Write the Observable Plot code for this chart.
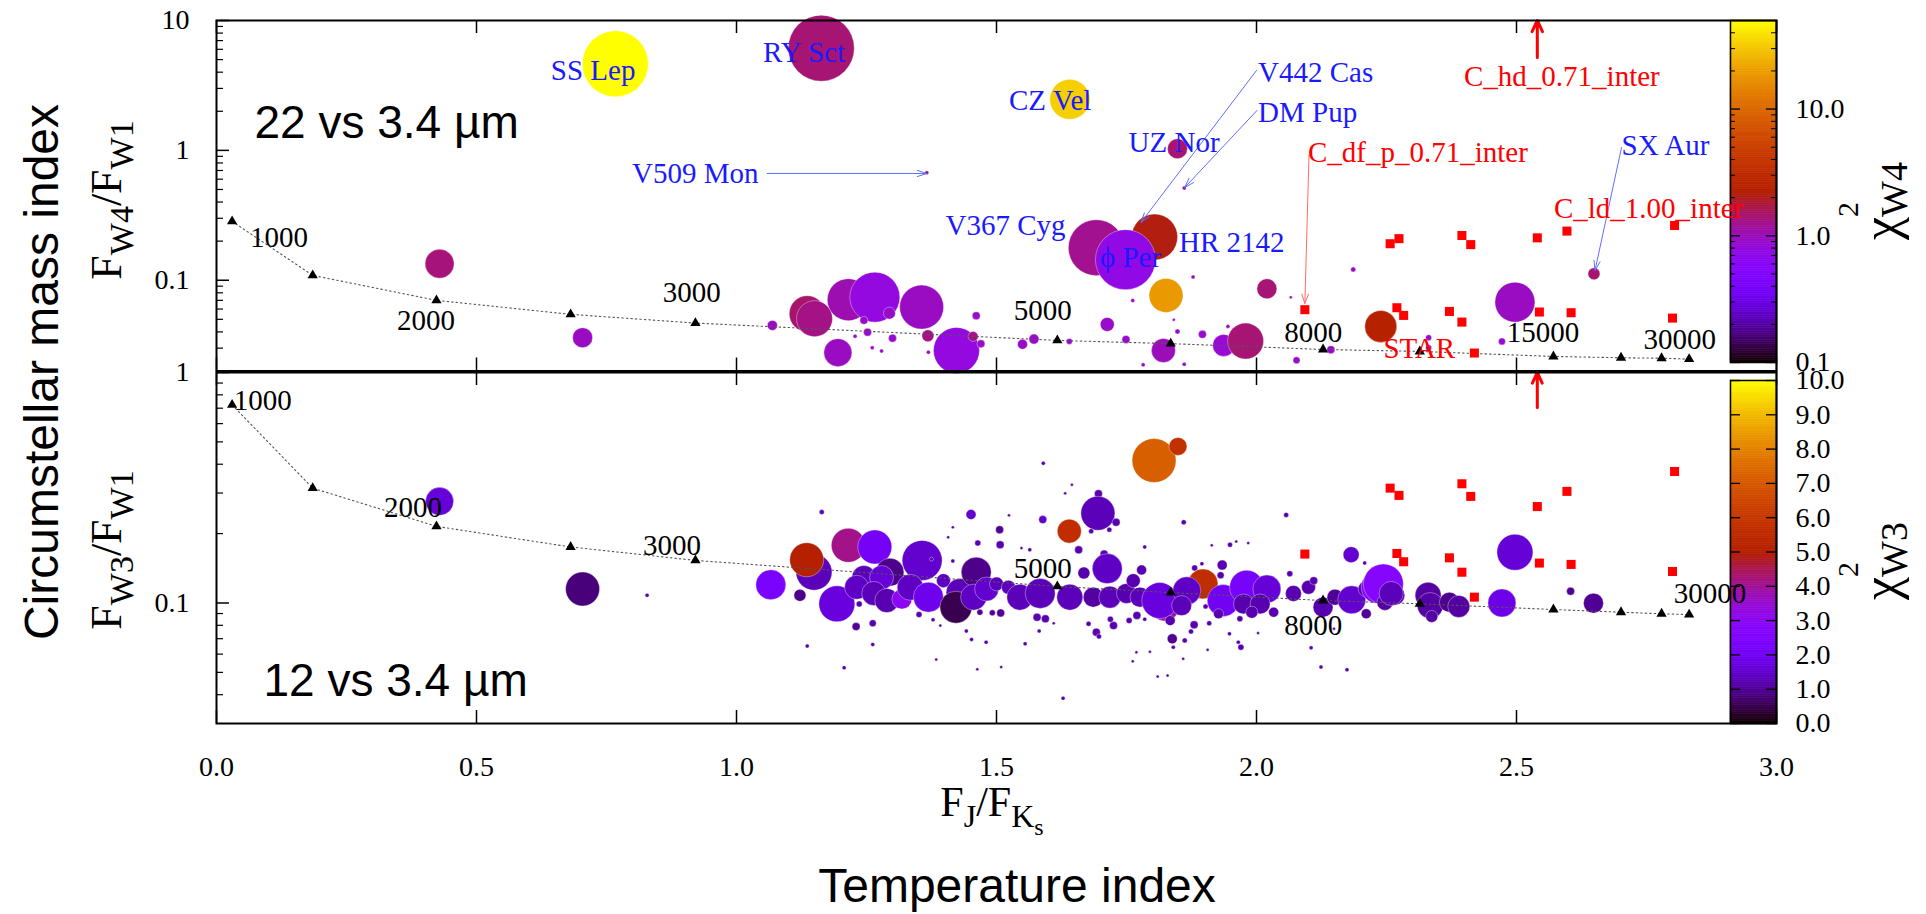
<!DOCTYPE html>
<html><head><meta charset="utf-8">
<script src="https://cdn.jsdelivr.net/npm/d3@7"></script>
<script src="https://cdn.jsdelivr.net/npm/@observablehq/plot@0.6"></script>
<style>
html,body{margin:0;padding:0;background:#fff;}
#wrap{position:relative;width:1926px;height:914px;overflow:hidden;background:#fff;}
</style></head><body><div id="wrap"></div>
<script>
// ---------------- DATA ----------------
// Upper panel: F_J/F_Ks, F_W4/F_W1, marker size, chi^2_W4
const topX = [0.767,1.163,1.641,1.848,1.366,1.861,1.692,1.804,1.748,0.429,0.704,1.826,2.020,1.878,1.762,2.066,
  1.069,1.136,1.150,1.215,1.266,1.294,1.245,1.252,1.228,1.261,1.279,1.300,1.195,1.356,1.368,1.369,1.423,1.461,1.455,1.470,
  1.550,1.572,1.640,1.713,1.749,1.821,1.841,1.848,1.782,1.861,1.896,1.937,1.945,1.979,2.077,2.143,2.186,2.239,2.331,2.331,
  2.472,2.497,2.649];
const topY = [4.64,6.12,2.47,1.03,0.673,0.512,0.178,0.215,0.144,0.134,0.0361,0.0764,0.0859,0.106,0.0698,0.0741,
  0.0449,0.0552,0.0506,0.0708,0.0741,0.0558,0.0491,0.0398,0.0371,0.0302,0.0285,0.0358,0.0277,0.0621,0.0373,0.0279,0.0288,0.0533,0.0369,0.0324,
  0.0321,0.0352,0.0338,0.0457,0.0350,0.0288,0.0497,0.0403,0.0223,0.0225,0.0383,0.0315,0.0441,0.0340,0.0242,0.0292,0.121,0.0441,0.0361,0.0302,
  0.0338,0.0678,0.112];
const topSize = [33,33,20,10,2,2,28,23,30,14.5,10,17,10,2,2,1.5,
  5,18,18,21,25,6,4,4,2,2,2,4,14,22,6,2,23,4,5,4,
  5,5,3,7,4,12,1.5,2.5,2,2,4,11,2,18,3.5,4,2.5,16,3,3,
  3.5,20,6];
const topChi = [50,1.4,33,1.4,1.4,1.2,1.24,2.1,0.74,1.36,0.95,19,1.4,1.0,1.0,1.0,
  0.95,1.45,1.3,1.05,0.78,0.9,0.9,0.9,0.9,0.9,0.9,0.9,0.95,0.95,1.3,1.0,0.78,0.9,1.3,0.9,
  0.9,0.9,0.9,0.9,0.9,1.0,0.9,0.9,0.9,0.9,0.9,0.85,0.9,1.4,0.9,0.9,0.9,2.4,0.9,0.9,
  0.85,0.95,1.45];

// Lower panel: F_J/F_Ks, F_W3/F_W1, marker size, chi^2_W3
const botX = [0.429,0.704,0.828,1.066,1.149,1.135,1.122,1.215,1.266,1.193,1.357,1.295,1.245,1.279,1.231,1.264,1.289,1.318,1.334,1.369,1.398,1.430,1.422,1.461,1.456,1.481,1.500,1.523,1.545,
  1.164,1.451,1.506,1.507,1.464,1.416,1.407,1.524,1.548,1.416,1.375,1.230,1.262,1.262,1.136,1.207,1.351,1.378,1.392,1.384,1.442,1.452,1.480,1.463,1.509,1.468,1.492,1.508,1.555,1.236,
  1.584,1.589,1.590,1.645,1.632,1.696,1.695,1.730,1.682,1.717,1.640,1.803,1.849,1.860,2.057,1.984,1.961,1.949,1.914,1.785,1.658,1.707,1.713,1.668,1.779,1.881,1.934,1.931,
  1.641,1.686,1.718,1.750,1.763,1.776,1.824,1.814,1.897,1.866,1.856,1.936,1.981,2.020,1.975,2.007,2.033,2.071,2.100,2.128,2.151,2.183,2.211,2.211,2.232,2.182,2.208,2.064,
  1.578,1.594,1.582,1.610,1.628,1.677,1.692,1.697,1.725,1.719,1.755,1.770,1.785,1.834,1.838,1.880,1.874,1.862,1.840,1.909,1.902,1.927,1.948,1.965,1.970,1.968,1.991,2.003,1.906,1.859,1.769,1.795,1.762,1.810,1.829,2.105,2.124,2.174,
  2.110,1.564,1.895,2.149,
  2.244,2.266,2.247,2.259,2.330,2.334,2.337,2.371,2.389,2.472,2.497,2.604,2.648];
const botY = [0.276,0.115,0.108,0.120,0.136,0.154,0.108,0.178,0.175,0.0992,0.153,0.136,0.129,0.129,0.117,0.110,0.1025,0.104,0.117,0.106,0.125,0.111,0.0959,0.136,0.106,0.115,0.121,0.117,0.106,
  0.248,0.242,0.208,0.179,0.182,0.213,0.193,0.240,0.173,0.152,0.155,0.079,0.0817,0.066,0.065,0.0524,0.0891,0.0845,0.0798,0.0569,0.0755,0.0695,0.0676,0.0516,0.0527,0.0912,0.0906,0.0905,0.0665,0.099,
  0.110,0.230,0.404,0.326,0.299,0.298,0.245,0.224,0.205,0.208,0.205,0.415,0.478,0.224,0.241,0.182,0.185,0.179,0.178,0.175,0.170,0.163,0.141,0.135,0.139,0.142,0.146,0.132,
  0.106,0.106,0.106,0.110,0.125,0.106,0.096,0.1025,0.121,0.113,0.0974,0.1025,0.117,0.115,0.099,0.099,0.0912,0.110,0.117,0.0959,0.106,0.1032,0.0898,0.115,0.117,0.162,0.149,0.134,
  0.0867,0.0854,0.0755,0.0817,0.0386,0.0812,0.0747,0.0716,0.0798,0.085,0.0839,0.0883,0.085,0.0839,0.0699,0.0804,0.0752,0.0688,0.0643,0.0817,0.0966,0.0898,0.0735,0.0676,0.0643,0.0854,0.0912,0.0740,0.0626,0.0573,0.0612,0.0615,0.0559,0.048,0.0485,0.0639,0.0527,0.0513,
  0.125,0.170,0.148,0.0774,
  0.121,0.108,0.1006,0.110,0.108,0.0975,0.0874,0.1007,0.0966,0.100,0.166,0.1125,0.0998];
const botSize = [14,17,2,15,18,17,6,17,17,18,20,14,12,12,12,12,12,10,13,15,7,14,16,15,13,12,7,7,13,
  2.5,5,4,4,3,1.5,1.5,1.5,1.5,2,2,4,3.5,2,2,2,3,2,1.5,1.5,2,2,2,1.5,1.5,3,3,4,2,3,
  15,4,2,1.5,1.5,4,17,4,2.5,2.5,12,22,9,2.5,2.5,1.5,1.5,2.5,1.5,2,4,4,15,6,5,3,5,3.5,
  13,10,11,10,7,10,14,18,15,14,10,16,17,14,10,10,5,8,7,10,8,14,5,8,16,8,2,3,
  4,4,2,1.5,2,2.5,4,2.5,4,3,3,4,2,5,5,4,2.5,2.5,2,2.5,2.5,5,2,2,3,3,6,1.5,1.5,1.5,1.5,1.5,1.5,1.5,1.5,2,2,2,
  4,2,2,1.5,
  20,10,8,12,13,13,6,10,11,14,18,4,10];
const botChi = [1.6,0.8,1.2,2.3,1.3,5.0,0.9,4.1,2.1,1.7,1.5,0.9,1.3,1.6,1.4,1.3,1.2,3.0,1.4,1.9,1.4,1.3,0.5,0.9,1.4,1.5,1.3,1.3,1.3,
  1.3,1.5,1.0,1.2,1.2,1.2,1.2,1.2,1.2,1.2,1.2,1.0,1.2,1.2,1.2,1.2,1.2,1.2,1.2,1.2,1.2,1.2,1.2,1.2,1.2,1.0,1.0,1.0,1.2,1.2,
  1.3,1.4,1.2,1.2,1.2,1.2,1.3,1.2,1.2,1.2,5.6,7.2,5.8,1.2,1.2,1.2,1.2,1.2,1.2,1.2,1.2,1.2,1.4,1.2,1.2,1.2,1.2,1.2,
  1.3,1.1,1.3,1.2,1.2,1.3,3.9,1.7,5.6,1.4,1.3,2.0,2.2,1.6,1.2,1.2,1.2,1.2,1.2,1.2,1.0,1.5,1.0,1.2,2.8,1.5,1.2,1.2,
  1.2,1.2,1.2,1.2,1.2,1.2,1.2,1.2,1.2,1.2,1.2,1.2,1.2,1.2,1.0,1.2,1.2,1.2,1.2,1.2,1.2,1.2,1.2,1.2,1.2,1.2,1.2,1.2,1.2,1.2,1.2,1.2,1.2,1.2,1.2,1.2,1.2,1.2,
  1.2,1.2,1.2,1.2,
  2.7,1.3,1.1,1.3,1.1,1.1,1.1,0.9,1.1,1.8,1.6,1.0,1.0];

// Dust-shell models (red squares)
const modelX  = [2.257,2.274,2.395,2.412,2.540,2.597,2.804,2.093,2.270,2.283,2.371,2.395,2.419,2.544,2.605,2.800];
const modelW4 = [0.191,0.209,0.221,0.188,0.212,0.239,0.264,0.0593,0.0614,0.0536,0.0575,0.0476,0.0275,0.0569,0.0562,0.0511];
const modelW3 = [0.315,0.293,0.329,0.290,0.262,0.305,0.372,0.163,0.164,0.151,0.157,0.136,0.106,0.149,0.147,0.137];

// Photosphere (blackbody) sequence
const tempK  = [1000,1500,2000,2500,3000,5000,6000,8000,10000,15000,20000,25000,30000];
const tempX  = [0.030,0.185,0.423,0.681,0.921,1.617,1.835,2.128,2.314,2.571,2.701,2.779,2.832];
const tempW4 = [0.284,0.109,0.070,0.0546,0.0468,0.0344,0.0325,0.0293,0.0283,0.0259,0.0253,0.0251,0.0247];
const tempW3 = [0.724,0.315,0.215,0.175,0.153,0.118,0.111,0.1025,0.0992,0.0937,0.0912,0.0898,0.0891];
const tempTopText = ["1000","2000","3000","5000","8000","15000","30000"];
const tempTopX = [0.120,0.403,0.914,1.589,2.109,2.551,2.814];
const tempTopY = [0.213,0.0491,0.0805,0.0585,0.0396,0.0396,0.0350];
const tempBotText = ["1000","2000","3000","5000","8000","30000"];
const tempBotX = [0.089,0.378,0.876,1.589,2.109,2.872];
const tempBotY = [0.756,0.260,0.178,0.141,0.0798,0.110];

// Annotations (upper panel)
const starText = ["SS Lep","RY Sct","CZ Vel","V442 Cas","DM Pup","UZ Nor","V509 Mon","V367 Cyg","ϕ Per","HR 2142","SX Aur"];
const starX = [0.643,1.051,1.524,2.003,2.003,1.754,0.799,1.402,1.699,1.851,2.702];
const starY = [4.12,5.67,2.42,3.98,1.96,1.15,0.664,0.264,0.150,0.195,1.09];
const modelText = ["C_hd_0.71_inter","C_df_p_0.71_inter","C_ld_1.00_inter","STAR"];
const modelTextX = [2.399,2.099,2.572,2.244];
const modelTextY = [3.71,0.964,0.357,0.0299];
const blueArrX1 = [1.059,2.000,2.001,2.702];
const blueArrY1 = [0.664,4.12,2.03,1.05];
const blueArrX2 = [1.366,1.778,1.862,2.651];
const blueArrY2 = [0.664,0.279,0.518,0.119];
const redArr = {x1: 2.101, y1: 0.914, x2: 2.093, y2: 0.0662};
const offTopArr = {x: 2.540, y1: 5.19, y2: 10};
const offBotArr = {x: 2.540, y1: 0.705, y2: 1};

// Axis ticks
const xTicks = [0,0.5,1,1.5,2,2.5,3];
const topMajor = [0.1,1,10];
const topMinor = [0.02,0.03,0.04,0.05,0.06,0.07,0.08,0.09,0.2,0.3,0.4,0.5,0.6,0.7,0.8,0.9,2,3,4,5,6,7,8,9];
const botMajor = [0.1,1];
const botMinor = [0.04,0.05,0.06,0.07,0.08,0.09,0.2,0.3,0.4,0.5,0.6,0.7,0.8,0.9];
const cbTopMajor = [0.1,1,10];
const cbTopMinor = [0.2,0.3,0.4,0.5,0.6,0.7,0.8,0.9,2,3,4,5,6,7,8,9,20,30,40];
const cbBotMajor = [0,1,2,3,4,5,6,7,8,9,10];

// ---------------- BUILD ----------------
const SERIF = "'Liberation Serif','Times New Roman',Times,serif";
const SANS = "'Liberation Sans',Arial,Helvetica,sans-serif";
const W = 1926, ML = 216, XR = 1776, MR = W - XR, PW = XR - ML;
const H1 = 350.5, H2 = 351;

const palette = t => {
  t = Math.max(0, Math.min(1, t));
  const r = Math.sqrt(t), g = t * t * t, b = Math.max(0, Math.sin(2 * Math.PI * t));
  return `rgb(${Math.round(255*r)},${Math.round(255*g)},${Math.round(255*b)})`;
};
const colorTop = {type: "log", domain: [0.1, 50], interpolate: palette, clamp: true};
const colorBot = {type: "linear", domain: [0, 10], interpolate: palette, clamp: true};

const topData = topX.map((x, i) => ({x, y: topY[i], s: topSize[i], c: topChi[i]}));
const botData = botX.map((x, i) => ({x, y: botY[i], s: botSize[i], c: botChi[i]}));
const models = modelX.map((x, i) => ({x, w4: modelW4[i], w3: modelW3[i]}));
const temps = tempK.map((k, i) => ({k, x: tempX[i], w4: tempW4[i], w3: tempW3[i]}));
const tTop = tempTopText.map((t, i) => ({t, x: tempTopX[i], y: tempTopY[i]}));
const tBot = tempBotText.map((t, i) => ({t, x: tempBotX[i], y: tempBotY[i]}));
const stars = starText.map((t, i) => ({t, x: starX[i], y: starY[i]}));
const mlabs = modelText.map((t, i) => ({t, x: modelTextX[i], y: modelTextY[i]}));
const barr = blueArrX1.map((x1, i) => ({x1, y1: blueArrY1[i], x2: blueArrX2[i], y2: blueArrY2[i]}));

const base = {fontFamily: SERIF, fontSize: "28px", background: "transparent", overflow: "visible"};

function frameTicks(H, yMajor, yMinor) {
  return [
    Plot.tickX(xTicks, {x: d => d, insetTop: H - 13, stroke: "black", strokeWidth: 1.5}),
    Plot.tickX(xTicks, {x: d => d, insetBottom: H - 13, stroke: "black", strokeWidth: 1.5}),
    Plot.tickY(yMajor, {y: d => d, insetRight: PW - 13, stroke: "black", strokeWidth: 1.5}),
    Plot.tickY(yMinor, {y: d => d, insetRight: PW - 7, stroke: "black", strokeWidth: 1.2}),
    Plot.frame({stroke: "black", strokeWidth: 2})
  ];
}

const bubbleOpts = {x: "x", y: "y", r: "s", fill: "c", stroke: "white", strokeOpacity: 0.45, strokeWidth: 0.8, sort: null};

const topPlot = Plot.plot({
  width: W, height: 380, marginLeft: ML, marginRight: MR, marginTop: 20, marginBottom: 380 - 20 - H1,
  style: base,
  x: {domain: [0, 3], axis: null},
  y: {type: "log", domain: [0.02, 10], axis: null},
  r: {type: "linear", domain: [0, 40], range: [0, 40]},
  color: colorTop,
  marks: [
    Plot.dot(topData, bubbleOpts),
    Plot.line(temps, {x: "x", y: "w4", stroke: "#555", strokeWidth: 1.1, strokeDasharray: "1.5,3"}),
    Plot.dot(temps, {x: "x", y: "w4", symbol: "triangle", r: 3.8, fill: "black"}),
    Plot.dot(models, {x: "x", y: "w4", symbol: "square", r: 5.1, fill: "#ff0000"}),
    Plot.arrow(barr, {x1: "x1", y1: "y1", x2: "x2", y2: "y2", stroke: "#5f6fff", strokeWidth: 1, headLength: 15, headAngle: 36}),
    Plot.arrow([redArr], {x1: "x1", y1: "y1", x2: "x2", y2: "y2", stroke: "#ff6b6b", strokeWidth: 1, headLength: 15, headAngle: 40}),
    Plot.arrow([offTopArr], {x: "x", y1: "y1", y2: "y2", stroke: "#ff0000", strokeWidth: 3, headLength: 10, headAngle: 50}),
    Plot.text(stars, {x: "x", y: "y", text: "t", textAnchor: "start", fill: "#1a1aff", fontSize: 29}),
    Plot.text(mlabs, {x: "x", y: "y", text: "t", textAnchor: "start", fill: "#ff0000", fontSize: 29}),
    Plot.text(tTop, {x: "x", y: "y", text: "t", fill: "black", fontSize: 29}),
    Plot.text(["22 vs 3.4 µm"], {text: d => d, frameAnchor: "top-left", textAnchor: "start", dx: 38, dy: 85, fontSize: 46, fontFamily: SANS, fill: "black"}),
    ...frameTicks(H1, topMajor, topMinor),
    Plot.axisY({ticks: topMajor, tickSize: 0, tickPadding: 27, tickFormat: d => String(d), fontSize: 28})
  ]
});

const botPlot = Plot.plot({
  width: W, height: 552, marginLeft: ML, marginRight: MR, marginTop: 10, marginBottom: 552 - 10 - H2,
  style: base,
  x: {domain: [0, 3], axis: null},
  y: {type: "log", domain: [0.03, 1], axis: null},
  r: {type: "linear", domain: [0, 40], range: [0, 40]},
  color: colorBot,
  marks: [
    Plot.dot(botData, bubbleOpts),
    Plot.line(temps, {x: "x", y: "w3", stroke: "#555", strokeWidth: 1.1, strokeDasharray: "1.5,3"}),
    Plot.dot(temps, {x: "x", y: "w3", symbol: "triangle", r: 3.8, fill: "black"}),
    Plot.dot(models, {x: "x", y: "w3", symbol: "square", r: 5.1, fill: "#ff0000"}),
    Plot.arrow([offBotArr], {x: "x", y1: "y1", y2: "y2", stroke: "#ff0000", strokeWidth: 3, headLength: 10, headAngle: 50}),
    Plot.text(tBot, {x: "x", y: "y", text: "t", fill: "black", fontSize: 29}),
    Plot.text(["12 vs 3.4 µm"], {text: d => d, frameAnchor: "top-left", textAnchor: "start", dx: 47, dy: 291, fontSize: 46, fontFamily: SANS, fill: "black"}),
    ...frameTicks(H2, botMajor, botMinor),
    Plot.axisY({ticks: botMajor, tickSize: 0, tickPadding: 27, tickFormat: d => String(d), fontSize: 28}),
    Plot.axisX({ticks: xTicks, tickSize: 0, tickPadding: 33, tickFormat: d3.format(".1f"), label: null, fontSize: 28})
  ]
});

// colour bars
const rampW4 = d3.range(150).map(i => { const lo = 0.1 * Math.pow(500, i / 150), hi = 0.1 * Math.pow(500, (i + 1) / 150); return {lo, hi, mid: Math.sqrt(lo * hi)}; });
const rampW3 = d3.range(150).map(i => ({lo: i / 15, hi: (i + 1) / 15, mid: (i + 0.5) / 15}));
const CBW = 46;
function colorbar(height, mTop, mBottom, yOpt, color, ramp, majors, minors) {
  return Plot.plot({
    width: 240, height, marginLeft: 0, marginRight: 240 - CBW, marginTop: mTop, marginBottom: mBottom,
    style: base,
    y: {...yOpt, axis: null},
    color,
    marks: [
      Plot.rect(ramp, {y1: "lo", y2: "hi", fill: "mid", stroke: "mid", strokeWidth: 0.6}),
      Plot.tickY(majors, {y: d => d, insetRight: CBW - 10, stroke: "black", strokeWidth: 1.3}),
      Plot.tickY(majors, {y: d => d, insetLeft: CBW - 10, stroke: "black", strokeWidth: 1.3}),
      Plot.tickY(minors, {y: d => d, insetRight: CBW - 5, stroke: "black", strokeWidth: 1}),
      Plot.tickY(minors, {y: d => d, insetLeft: CBW - 5, stroke: "black", strokeWidth: 1}),
      Plot.frame({stroke: "black", strokeWidth: 1.5}),
      Plot.axisY({anchor: "right", ticks: majors, tickSize: 0, tickPadding: 19, tickFormat: d3.format(".1f"), fontSize: 28})
    ]
  });
}
const cbTop = colorbar(380, 20, 18, {type: "log", domain: [0.1, 50]}, colorTop, rampW4, cbTopMajor, cbTopMinor);
const cbBot = colorbar(552, 18, 191, {type: "linear", domain: [0, 10]}, colorBot, rampW3, cbBotMajor, []);

const wrap = document.getElementById("wrap");
function place(el, left, top) { el.style.position = "absolute"; el.style.left = left + "px"; el.style.top = top + "px"; wrap.appendChild(el); }
place(cbTop, XR - CBW, 0);
place(cbBot, XR - CBW, 362);
place(topPlot, 0, 0);
place(botPlot, 0, 362);

// axis titles overlay
const ov = d3.select(wrap).append("svg").attr("width", W).attr("height", 914)
  .style("position", "absolute").style("left", "0px").style("top", "0px").style("pointer-events", "none");

ov.append("text").attr("transform", "translate(58,372) rotate(-90)").attr("text-anchor", "middle")
  .attr("font-family", SANS).attr("font-size", 48).attr("fill", "black").text("Circumstellar mass index");

function ratioLabel(cy, a, b) {
  const t = ov.append("text").attr("transform", `translate(121,${cy}) rotate(-90)`).attr("text-anchor", "middle")
    .attr("font-family", SERIF).attr("font-size", 44).attr("fill", "black");
  t.append("tspan").text("F");
  t.append("tspan").attr("font-size", 34).attr("dy", 12).text(a);
  t.append("tspan").attr("dy", -12).text("/F");
  t.append("tspan").attr("font-size", 34).attr("dy", 12).text(b);
}
ratioLabel(200, "W4", "W1");
ratioLabel(550, "W3", "W1");

{
  const t = ov.append("text").attr("x", 992).attr("y", 816).attr("text-anchor", "middle")
    .attr("font-family", SERIF).attr("font-size", 42).attr("fill", "black");
  t.append("tspan").text("F");
  t.append("tspan").attr("font-size", 32).attr("dy", 11).text("J");
  t.append("tspan").attr("dy", -11).text("/F");
  t.append("tspan").attr("font-size", 32).attr("dy", 11).text("K");
  t.append("tspan").attr("font-size", 24).attr("dy", 8).text("s");
}
ov.append("text").attr("x", 1017).attr("y", 902).attr("text-anchor", "middle")
  .attr("font-family", SANS).attr("font-size", 48).attr("fill", "black").text("Temperature index");

function chiLabel(y0, sub) {
  const t = ov.append("text").attr("transform", `translate(1898,${y0}) rotate(-90)`)
    .attr("font-family", SERIF).attr("font-size", 52).attr("fill", "black");
  t.append("tspan").text("χ");
  t.append("tspan").attr("font-size", 30).attr("dy", -40).text("2");
  t.append("tspan").attr("font-size", 38).attr("dx", -15).attr("dy", 49).text(sub);
}
chiLabel(240, "W4");
chiLabel(600, "W3");
</script></body></html>
